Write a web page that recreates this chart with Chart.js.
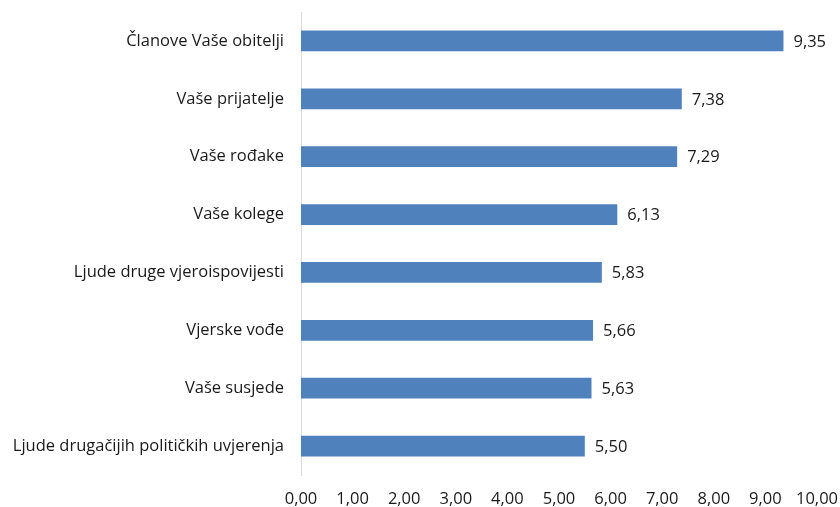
<!DOCTYPE html>
<html>
<head>
<meta charset="utf-8">
<script src="https://cdn.jsdelivr.net/npm/chart.js@4"></script>
<style>
  html, body { margin: 0; padding: 0; background: #fff; }
  #wrap { width: 840px; height: 507px; }
</style>
</head>
<body>
<div id="wrap"><canvas id="Chart"></canvas></div>
<script>
const categories = [
    'Članove Vaše obitelji',
    'Vaše prijatelje',
    'Vaše rođake',
    'Vaše kolege',
    'Ljude druge vjeroispovijesti',
    'Vjerske vođe',
    'Vaše susjede',
    'Ljude drugačijih političkih uvjerenja'
];
const values = [9.35, 7.38, 7.29, 6.13, 5.83, 5.66, 5.63, 5.50];
const xMin = 0;
const xMax = 10;
const xStep = 1;

const fontFamily = "'Open Sans', 'Noto Sans', sans-serif";
const fontSize = 16.5;
const fmt = v => v.toFixed(2).replace('.', ',');

// draws the value next to the end of each bar
const valueLabels = {
    id: 'valueLabels',
    afterDatasetsDraw(chart) {
        const ctx = chart.ctx;
        const meta = chart.getDatasetMeta(0);
        ctx.save();
        ctx.font = fontSize + 'px ' + fontFamily;
        ctx.fillStyle = '#1a1a1a';
        ctx.textAlign = 'left';
        ctx.textBaseline = 'middle';
        meta.data.forEach((bar, i) => {
            ctx.fillText(fmt(values[i]), bar.x + 10, bar.y + 1);
        });
        ctx.restore();
    }
};

const ctx = document.getElementById('Chart').getContext('2d');

const myChart = new Chart(ctx, {
    type: 'bar',
    data: {
        labels: categories,
        datasets: [{
            data: values,
            backgroundColor: '#4f81bd',
            borderWidth: 0,
            barPercentage: 0.36,
            categoryPercentage: 1
        }]
    },
    options: {
        indexAxis: 'y',
        responsive: true,
        maintainAspectRatio: false,
        animation: false,
        layout: { padding: { top: 12, right: 23, left: 0, bottom: 0 } },
        plugins: {
            legend: { display: false },
            tooltip: { enabled: false }
        },
        scales: {
            x: {
                min: xMin,
                max: xMax,
                grid: { display: false, drawTicks: false },
                border: { display: false },
                ticks: {
                    stepSize: xStep,
                    padding: 14,
                    color: '#1a1a1a',
                    font: { size: fontSize, family: fontFamily },
                    maxRotation: 0,
                    callback: v => fmt(v)
                },
                afterFit: s => {
                    s.height = 32;
                    s.paddingLeft = 0;
                    s.paddingRight = 0;
                }
            },
            y: {
                grid: { display: false, drawTicks: false },
                border: { display: true, color: '#d9d9d9', width: 1 },
                ticks: {
                    padding: 17,
                    color: '#1a1a1a',
                    font: { size: fontSize, family: fontFamily }
                },
                afterFit: s => {
                    s.width = 301;
                    s.paddingTop = 0;
                    s.paddingBottom = 0;
                }
            }
        }
    },
    plugins: [valueLabels]
});
</script>
</body>
</html>
